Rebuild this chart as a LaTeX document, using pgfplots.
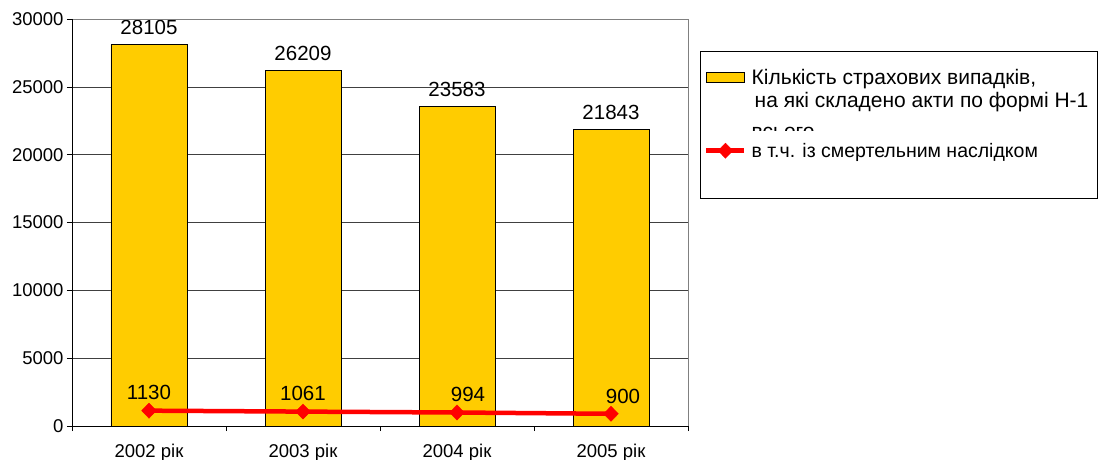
\documentclass[border=0pt]{standalone}
\usepackage{fontspec}
\setmainfont{Liberation Sans}
\usepackage{pgfplots}
\usepackage{pgfplotstable}
\pgfplotsset{compat=1.18}
\usepackage{trimclip}
\definecolor{barY}{HTML}{FFCC00}
\pgfplotstableread{
x y lab
0 28105 28105
1 26209 26209
2 23583 23583
3 21843 21843
}\bardata
\pgfplotstableread{
x y lab dx
0 1130 1130 0
1 1061 1061 0
2 994 994 11
3 900 900 12
}\linedata
\newcommand{\ft}{\fontsize{18.5bp}{22bp}\selectfont}
\newcommand{\fd}{\fontsize{20.5bp}{24bp}\selectfont}
\newcommand{\fla}{\fontsize{21bp}{24bp}\selectfont}
\newcommand{\flb}{\fontsize{19.5bp}{23bp}\selectfont}
\begin{document}
\begin{tikzpicture}
\useasboundingbox (0,0) rectangle (1098bp,460bp);
\begin{axis}[
 at={(72bp,34bp)}, anchor=south west,
 scale only axis, width=616bp, height=407bp,
 xmin=-0.5, xmax=3.5, ymin=0, ymax=30000,
 xtick={0,1,2,3}, xticklabels={2002 рік,2003 рік,2004 рік,2005 рік},
 minor xtick={-0.5,0.5,1.5,2.5,3.5},
 ytick={0,5000,10000,15000,20000,25000,30000},
 scaled y ticks=false,
 /pgf/number format/1000 sep={},
 /pgf/number format/assume math mode=true,
 tick label style={font=\ft},
 xticklabel style={yshift=-10bp},
 tick align=outside, xtick pos=left, ytick pos=left,
 major tick length=5bp, minor tick length=5bp,
 major x tick style={draw=none},
 minor x tick style={black, line width=0.6bp},
 ytick style={black, line width=0.6bp},
 ymajorgrids, major grid style={black!75, line width=0.6bp},
 axis line style={draw=none},
 legend style={at={(rel axis cs:1.0195,0.9214)}, anchor=north west, draw=none, fill=none,
   legend cell align=left, row sep=53bp, inner xsep=4bp, inner ysep=16bp},
 after end axis/.code={
   \draw[gray, line width=0.8bp] (rel axis cs:0,1) -- (rel axis cs:1,1) -- (rel axis cs:1,0);
   \draw[black, line width=0.8bp] (rel axis cs:0,1) -- (rel axis cs:0,0) -- (rel axis cs:1,0);
   \draw[black, line width=0.8bp] (rel axis cs:1.0195,0.5602) rectangle (rel axis cs:1.664,0.9214);
 },
]
\addplot[ybar, bar width=76bp, fill=barY, draw=black, line width=0.7bp,
  nodes near coords, point meta=explicit symbolic,
  every node near coord/.append style={font=\fd, yshift=6bp, anchor=south},
  legend image code/.code={\draw[fill=barY,draw=black,line width=0.7bp] (0bp,-5bp) rectangle (38bp,5bp);}]
  table[x=x,y=y,meta=lab] {\bardata};
\addlegendentry{\fla\hspace*{3bp}\rlap{\raisebox{-23bp}[0pt][0pt]{\hspace{3bp}на які складено акти по формі Н-1}}\rlap{\raisebox{-46bp}[0pt][0pt]{\clipbox{0pt 8bp 0pt 0pt}{всього}}}Кількість страхових випадків,}
\addplot[red, line width=4.5bp, mark=diamond*, mark size=7.5bp,
  mark options={solid, line width=0.5bp, xscale=1.3},
  nodes near coords, point meta=explicit symbolic,
  visualization depends on={\thisrow{dx}\as\dx},
  every node near coord/.append style={font=\fd, text=black, xshift=\dx bp, yshift=7bp, anchor=south},
  legend image code/.code={\draw[mark repeat=2,mark phase=2] plot coordinates {(0bp,0bp) (19bp,0bp) (38bp,0bp)};}]
  table[x=x,y=y,meta=lab] {\linedata};
\addlegendentry{\flb\hspace*{3bp}в т.ч. із смертельним наслідком}
\end{axis}
\end{tikzpicture}
\end{document}
